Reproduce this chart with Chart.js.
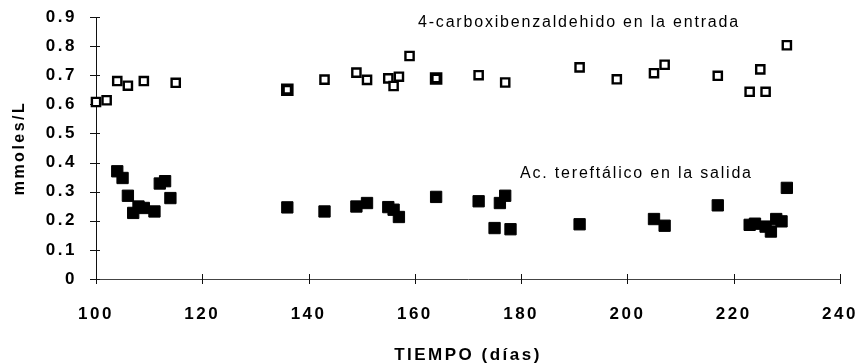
<!DOCTYPE html>
<html>
<head>
<meta charset="utf-8">
<title>mmoles/L vs tiempo</title>
<script src="https://cdn.jsdelivr.net/npm/chart.js@4.4.0/dist/chart.umd.min.js"></script>
<style>
  body { margin: 0; background: #fff; }
  canvas { display: block; }
</style>
</head>
<body>
<canvas id="grafico" width="860" height="364"></canvas>
<script>
// 4-carboxibenzaldehido en la entrada (open squares)
const entradaDias = [100, 102, 104, 106, 109, 115, 136, 143, 149, 151, 155, 156, 157, 159, 164, 172, 177, 191, 198, 205, 207, 217, 223, 225, 226, 230];
const entradaMmol = [0.608, 0.614, 0.68, 0.664, 0.68, 0.674, 0.65, 0.685, 0.709, 0.684, 0.689, 0.663, 0.695, 0.766, 0.689, 0.70, 0.675, 0.727, 0.686, 0.707, 0.736, 0.698, 0.643, 0.72, 0.643, 0.803];
// days drawn with a heavier outline
const entradaGruesos = [136, 164];

// Ac. tereftalico en la salida (filled squares)
const salidaDias = [104, 105, 106, 107, 108, 109, 111, 112, 113, 114, 136, 143, 149, 151, 155, 156, 157, 164, 172, 175, 176, 177, 178, 191, 205, 207, 217, 223, 224, 226, 227, 228, 229, 230];
const salidaMmol = [0.37, 0.347, 0.286, 0.227, 0.249, 0.244, 0.232, 0.328, 0.336, 0.278, 0.246, 0.232, 0.249, 0.261, 0.247, 0.238, 0.213, 0.282, 0.267, 0.175, 0.261, 0.286, 0.171, 0.188, 0.206, 0.183, 0.253, 0.186, 0.19, 0.18, 0.163, 0.206, 0.198, 0.313];

const xTicks = [100, 120, 140, 160, 180, 200, 220, 240];
const yTicks = [0, 0.1, 0.2, 0.3, 0.4, 0.5, 0.6, 0.7, 0.8, 0.9];

// series captions, anchored at data coordinates
const etiquetas = [
  { texto: '4-carboxibenzaldehido en la entrada', x: 160.6, y: 0.866 },
  { texto: 'Ac. tereftálico en la salida', x: 179.8, y: 0.348 }
];

const FONT = "'Liberation Sans', Arial, sans-serif";

const toPoints = (xs, ys) => xs.map((x, i) => ({ x: x, y: ys[i] }));
const esGrueso = ctx => ctx.raw && entradaGruesos.includes(ctx.raw.x);

// ticks that cross both axes + letter spacing for axis text + captions
const ejesPlugin = {
  id: 'ejes',
  beforeDraw(chart) {
    chart.ctx.letterSpacing = '2.5px';
  },
  beforeDatasetsDraw(chart) {
    const ctx = chart.ctx;
    const xs = chart.scales.x, ys = chart.scales.y;
    const area = chart.chartArea;
    ctx.save();
    ctx.strokeStyle = '#111';
    ctx.lineWidth = 1;
    ctx.beginPath();
    xTicks.forEach(t => {
      const px = Math.round(xs.getPixelForValue(t)) + 0.5;
      ctx.moveTo(px, area.bottom - 5);
      ctx.lineTo(px, area.bottom + 5);
    });
    yTicks.forEach(t => {
      const py = Math.round(ys.getPixelForValue(t)) + 0.5;
      ctx.moveTo(area.left - 6, py);
      ctx.lineTo(area.left + 4, py);
    });
    ctx.stroke();
    ctx.restore();
  },
  afterDraw(chart) {
    const ctx = chart.ctx;
    const xs = chart.scales.x, ys = chart.scales.y;
    ctx.save();
    ctx.letterSpacing = '1.8px';
    ctx.fillStyle = '#000';
    ctx.font = '16px ' + FONT;
    ctx.textAlign = 'left';
    ctx.textBaseline = 'alphabetic';
    etiquetas.forEach(e => {
      ctx.fillText(e.texto, xs.getPixelForValue(e.x), ys.getPixelForValue(e.y));
    });
    ctx.restore();
    ctx.letterSpacing = '0px';
  }
};

new Chart(document.getElementById('grafico').getContext('2d'), {
  type: 'scatter',
  data: {
    datasets: [
      {
        label: 'Ac. tereftálico en la salida',
        data: toPoints(salidaDias, salidaMmol),
        pointStyle: 'rect',
        pointRadius: 8,
        pointBackgroundColor: '#000',
        pointBorderColor: '#000',
        pointBorderWidth: 1,
        clip: false
      },
      {
        label: '4-carboxibenzaldehido en la entrada',
        data: toPoints(entradaDias, entradaMmol),
        pointStyle: 'rect',
        pointRadius: ctx => esGrueso(ctx) ? 6.2 : 5.8,
        pointBackgroundColor: '#fff',
        pointBorderColor: '#000',
        pointBorderWidth: ctx => esGrueso(ctx) ? 3.8 : 2.4,
        clip: false
      }
    ]
  },
  options: {
    responsive: false,
    animation: false,
    events: [],
    layout: { padding: { top: 17, right: 20, bottom: 0, left: 0 } },
    plugins: {
      legend: { display: false },
      tooltip: { enabled: false }
    },
    scales: {
      x: {
        type: 'linear',
        min: 100,
        max: 240,
        afterBuildTicks: s => { s.ticks = xTicks.map(v => ({ value: v })); },
        afterFit: s => { s.height = 85; s.paddingLeft = 0; s.paddingRight = 0; },
        grid: { display: false },
        border: { display: true, color: '#444', width: 1, dash: [12, 3] },
        ticks: {
          color: '#000',
          padding: 17,
          maxRotation: 0,
          font: { family: FONT, size: 17, weight: 'bold' }
        },
        title: {
          display: true,
          text: 'TIEMPO (días)',
          color: '#000',
          padding: { top: 0, bottom: -2 },
          font: { family: FONT, size: 17, weight: 'bold' }
        }
      },
      y: {
        min: 0,
        max: 0.9,
        afterBuildTicks: s => { s.ticks = yTicks.map(v => ({ value: v })); },
        afterFit: s => { s.width = 96; s.paddingTop = 0; s.paddingBottom = 0; },
        grid: { display: false },
        border: { display: true, color: '#111', width: 1 },
        ticks: {
          color: '#000',
          padding: 11,
          callback: v => String(Number(v.toFixed(1))),
          font: { family: FONT, size: 17, weight: 'bold' }
        },
        title: {
          display: true,
          text: 'mmoles/L',
          color: '#000',
          padding: { top: 10, bottom: 0 },
          font: { family: FONT, size: 16, weight: 'bold' }
        }
      }
    }
  },
  plugins: [ejesPlugin]
});
</script>
</body>
</html>
